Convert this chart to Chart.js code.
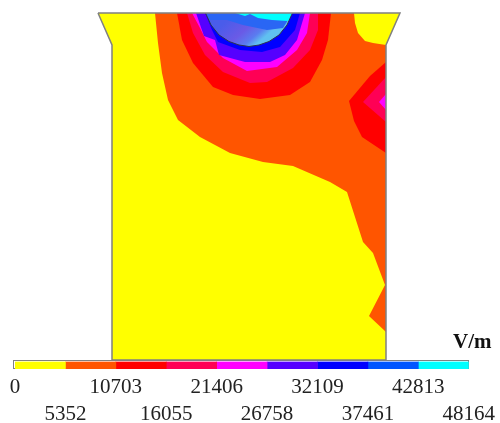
<!DOCTYPE html>
<html>
<head>
<meta charset="utf-8">
<script src="https://cdn.jsdelivr.net/npm/chart.js@4"></script>
<style>
  html, body { margin: 0; padding: 0; background: #fff; overflow: hidden; }
  canvas { filter: blur(0.5px); }
  #field { position: absolute; left: 0; top: 0; }
  #bar { position: absolute; left: 0; top: 358px; }
  #frame { position: absolute; left: 13px; top: 360px; width: 454px; height: 7px; border: 1.5px solid #808080; }
  #unit { position: absolute; left: 453px; top: 329px; font: bold 21px "Liberation Serif"; color: #111; }
</style>
</head>
<body>
<canvas id="field" width="500" height="362"></canvas>
<div id="frame"></div>
<canvas id="bar" width="500" height="70"></canvas>
<div id="unit">V/m</div>
<script>
// contour levels and colours of the colour bar
const levels = [0, 5352, 10703, 16055, 21406, 26758, 32109, 37461, 42813, 48164];
const bandColors = ['#ffff00', '#ff5500', '#ff0000', '#ff0055', '#ff00ff', '#5500ff', '#0000ff', '#0055ff', '#00ffff'];

// contour boundaries
const outline = [[98,13],[400,13],[386,45],[386,360],[112,360],[112,45],[98,13]];
const band1 = [[155,13],[158,43],[162,73],[168,100],[178,120],[200,137],[230,153],[263,162],[293,166],[330,182],[347,192],[363,242],[373,253],[385,285],[369,316],[386,332],[386,45],[373,43],[365,41],[358,33],[355,23],[354,13]];
const band2 = [[177,13],[182,40],[193,63],[213,87],[233,95],[260,99],[290,95],[310,82],[322,60],[328,40],[331,13]];
const band2b = [[386,62],[370,76],[349,101],[354,121],[362,137],[386,153]];
const band3 = [[187,13],[193,33],[205,55],[223,72],[250,83],[267,82],[293,68],[310,50],[318,30],[318,13]];
const band3b = [[386,77],[363,102],[386,122]];
const band4 = [[192,13],[200,28],[207,42],[223,58],[247,71],[277,67],[297,50],[307,33],[310,13]];
const band4b = [[386,94],[379,102],[386,110]];
const band5 = [[196,13],[204,36],[215,40],[219,55],[245,62],[270,62],[285,55],[297,40],[305,13]];
const band6 = [[205,13],[212,30],[218,42],[240,50],[262,52],[280,47],[295,30],[300,13]];
const ball = [[205.5,13],[211,25],[219,35],[229,41.5],[239,45],[249,46.5],[259,45],[269,41.5],[279,35],[287,25],[292.5,13]];
const ballUpper = [[205.5,13],[209,20],[227,20],[243,25],[267,30],[283,28],[292.5,13]];
const ballTop = [[235,13],[245,16],[250,14],[258,18],[272,20],[288,21],[292.5,13]];

function poly(pts, color, line, lineWidth) {
  return {
    data: pts.map(p => ({x: p[0], y: p[1]})),
    showLine: true,
    fill: color ? 'shape' : false,
    backgroundColor: color || 'transparent',
    borderColor: line || color,
    borderWidth: line ? lineWidth : 0,
    pointRadius: 0,
    tension: 0
  };
}

const fieldCtx = document.getElementById('field').getContext('2d');
const ballFill = fieldCtx.createLinearGradient(228, 20, 252, 48);
ballFill.addColorStop(0, '#4a5cea');
ballFill.addColorStop(0.5, '#6a5ae6');
ballFill.addColorStop(0.8, '#5a7cf0');
ballFill.addColorStop(1, '#60c0f0');

// first dataset is painted last
new Chart(fieldCtx, {
  type: 'scatter',
  data: {
    datasets: [
      poly(outline, null, '#808080', 1.5),
      poly(ball, null, '#2c3450', 1),
      poly(ballTop, '#00ffff'),
      poly(ballUpper, '#2a66f4'),
      poly(ball, ballFill),
      poly(band6, bandColors[6]),
      poly(band5, bandColors[5]),
      poly(band4, bandColors[4]),
      poly(band4b, bandColors[4]),
      poly(band3, bandColors[3]),
      poly(band3b, bandColors[3]),
      poly(band2, bandColors[2]),
      poly(band2b, bandColors[2]),
      poly(band1, bandColors[1]),
      poly(outline, bandColors[0])
    ]
  },
  options: {
    responsive: false,
    animation: false,
    layout: { padding: 0 },
    plugins: { legend: { display: false }, tooltip: { enabled: false } },
    scales: {
      x: { type: 'linear', min: 0, max: 500, display: false },
      y: { type: 'linear', min: 0, max: 362, reverse: true, display: false }
    }
  }
});

// colour bar: one stacked horizontal bar, ticks alternate on two rows
const bandWidths = bandColors.map((c, i) => levels[i + 1] - levels[i]);

new Chart(document.getElementById('bar'), {
  type: 'bar',
  data: {
    labels: ['E'],
    datasets: bandColors.map((c, i) => ({
      data: [bandWidths[i]],
      backgroundColor: c,
      barPercentage: 1,
      categoryPercentage: 1
    }))
  },
  options: {
    indexAxis: 'y',
    responsive: false,
    animation: false,
    layout: { padding: { left: 15, right: 31, top: 3.5 } },
    plugins: { legend: { display: false }, tooltip: { enabled: false } },
    scales: {
      y: { stacked: true, display: false },
      x: {
        stacked: true,
        min: 0,
        max: 48164,
        afterBuildTicks: axis => { axis.ticks = levels.map(v => ({value: v})); },
        // the layout caps an axis at half the canvas, the two rows need more
        afterFit: axis => { axis.height = 59; },
        grid: { display: false, drawTicks: false },
        border: { display: false },
        ticks: {
          autoSkip: false,
          maxRotation: 0,
          padding: 5,
          color: '#222',
          font: { family: 'Liberation Serif', size: 21, lineHeight: 1.29 },
          callback: (v, i) => i % 2 ? ['', String(v)] : [String(v), '']
        }
      }
    }
  }
});
</script>
</body>
</html>
